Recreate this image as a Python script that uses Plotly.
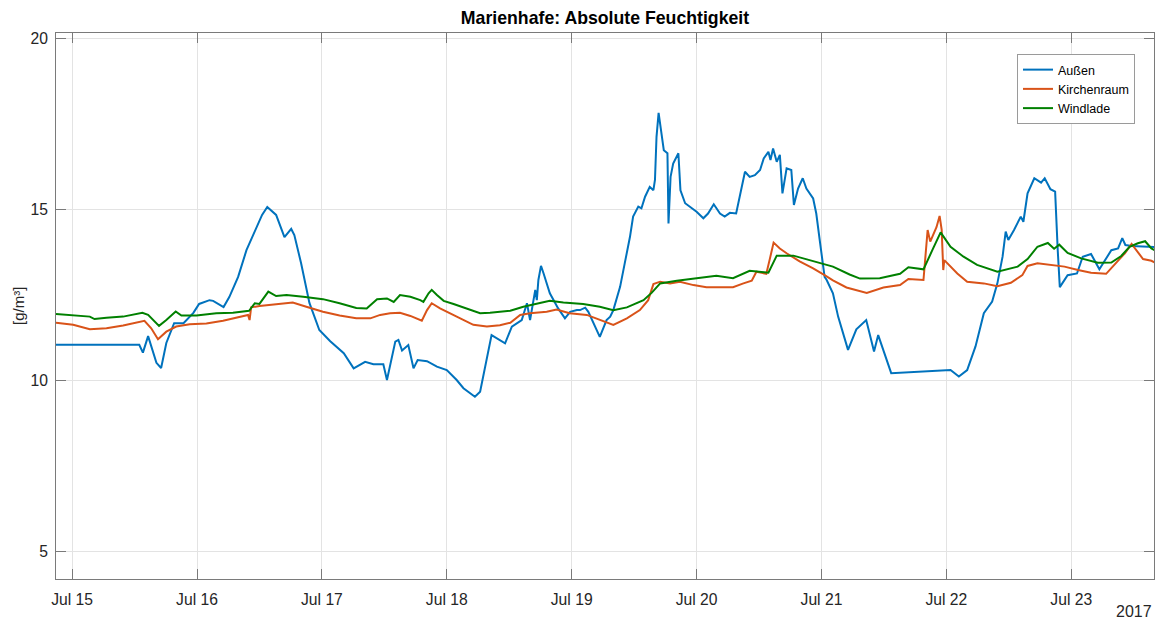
import pandas as pd
import plotly.graph_objects as go

# ---- data (hours after 2017-07-15 00:00, values in g/m^3) ----
start = pd.Timestamp("2017-07-15 00:00")

aussen_h = [-3.1, 12.9, 13.6, 14.6, 16.2, 17.1, 18.1, 19.6, 21.4, 23.3, 24.4, 26.4, 27.1, 29.1,
            30.2, 31.9, 33.5, 35.4, 36.5, 37.5, 39.2, 40.8, 42.1, 42.7, 44.0, 45.6, 47.5, 49.6,
            52.2, 54.1, 56.3, 57.9, 59.8, 60.5, 62.1, 62.7, 63.4, 64.6, 65.6, 66.4, 68.2, 70.1,
            72.0, 73.9, 75.2, 77.4, 78.4, 80.6, 83.2, 84.5, 85.4, 86.4, 87.4, 88.0, 89.0, 89.3,
            89.6, 90.1, 90.6, 91.8, 93.4, 94.7, 95.7, 97.0, 97.6, 98.6, 99.2, 100.2, 101.4, 102.7,
            103.4, 104.0, 105.3, 106.2, 107.2, 107.8, 108.8, 109.4, 110.1, 111.0, 111.7, 112.0,
            112.3, 112.7, 113.3, 113.7, 114.4, 114.6, 115.0, 115.5, 116.5, 116.9, 117.8, 120.0,
            121.3, 122.2, 123.3, 124.5, 125.4, 126.4, 127.6, 128.6, 129.3, 130.2, 131.2, 132.2,
            132.9, 133.8, 134.2, 134.7, 135.4, 136.0, 136.5, 137.3, 138.2, 138.7, 139.5, 140.4,
            141.1, 142.4, 143.0, 143.7, 144.6, 145.0, 146.2, 147.2, 149.1, 150.7, 152.6, 154.1,
            154.9, 157.4, 168.8, 170.4, 172.0, 173.6, 175.2, 176.8, 177.8, 178.8, 179.4, 179.9,
            181.0, 182.3, 182.8, 183.6, 184.9, 186.2, 186.9, 188.0, 188.9, 189.4, 189.8, 191.3,
            193.1, 194.2, 195.8, 197.4, 199.7, 201.0, 201.8, 202.4, 203.6, 208.0]
aussen_v = [11.05, 11.05, 10.82, 11.30, 10.52, 10.37, 11.10, 11.68, 11.68, 11.98, 12.24, 12.35, 12.33, 12.15,
            12.44, 13.03, 13.81, 14.48, 14.84, 15.07, 14.84, 14.19, 14.43, 14.25, 13.43, 12.27, 11.48, 11.15,
            10.80, 10.36, 10.55, 10.48, 10.48, 10.02, 11.14, 11.19, 10.88, 11.04, 10.36, 10.60, 10.57, 10.41,
            10.31, 10.02, 9.78, 9.53, 9.68, 11.33, 11.09, 11.58, 11.67, 11.77, 12.26, 11.77, 12.65, 12.35,
            12.94, 13.35, 13.13, 12.55, 12.11, 11.82, 12.01, 12.06, 12.06, 12.13, 12.01, 11.67, 11.28, 11.77,
            11.87, 12.06, 12.74, 13.43, 14.20, 14.79, 15.08, 15.03, 15.37, 15.66, 15.56, 15.86,
            17.12, 17.82, 17.12, 16.73, 16.64, 14.59, 15.95, 16.34, 16.64, 15.56, 15.18, 14.93,
            14.74, 14.88, 15.15, 14.88, 14.79, 14.90, 14.88, 15.56, 16.10, 15.95, 16.00, 16.15,
            16.49, 16.68, 16.44, 16.78, 16.39, 16.59, 15.47, 16.20, 16.15, 15.13, 15.61, 15.91,
            15.61, 15.32, 14.88, 14.06, 13.03, 12.94, 12.55, 11.87, 10.90, 11.50, 11.77, 10.85,
            11.33, 10.22, 10.31, 10.12, 10.31, 11.00, 11.97, 12.31, 12.84, 13.62, 14.35, 14.11,
            14.40, 14.79, 14.64, 15.47, 15.91, 15.78, 15.91, 15.59, 15.52, 13.81, 12.73, 13.08,
            13.13, 13.62, 13.70, 13.25, 13.81, 13.86, 14.16, 13.96, 13.93, 13.90]

kirche_h = [-3.1, 0.2, 3.4, 6.6, 9.8, 12.4, 13.9, 15.2, 16.5, 18.1, 20.0, 22.6, 25.8, 29.0, 32.2,
            33.8, 34.1, 34.4, 36.0, 37.9, 39.2, 42.4, 45.0, 48.2, 51.4, 54.6, 57.3, 59.2, 61.1, 63.0,
            65.0, 67.2, 68.2, 69.1, 70.7, 72.6, 75.2, 77.1, 79.7, 82.2, 84.2, 86.1, 88.0, 91.2, 93.1,
            95.6, 98.9, 101.4, 104.0, 106.6, 109.1, 110.7, 111.7, 113.0, 114.9, 116.8, 119.4, 121.9,
            124.5, 127.0, 129.0, 130.6, 131.5, 132.2, 133.4, 134.1, 134.8, 136.0, 137.3, 139.8, 142.4,
            144.6, 146.2, 148.8, 150.7, 152.7, 155.9, 159.1, 160.7, 163.6, 164.4, 164.9, 166.1, 166.7,
            167.1, 167.4, 167.6, 170.1, 172.0, 175.2, 177.8, 180.4, 182.6, 183.6, 185.5, 188.1, 190.7,
            193.3, 195.8, 198.7, 200.3, 202.3, 203.6, 204.7, 205.8, 207.4, 208.0]
kirche_v = [11.69, 11.63, 11.50, 11.53, 11.61, 11.69, 11.75, 11.53, 11.21, 11.43, 11.58, 11.65, 11.67, 11.75, 11.87,
            11.92, 11.77, 12.14, 12.18, 12.21, 12.24, 12.28, 12.16, 12.01, 11.90, 11.82, 11.82, 11.92, 11.97, 11.98,
            11.89, 11.75, 12.06, 12.26, 12.11, 11.97, 11.77, 11.63, 11.58, 11.62, 11.69, 11.92, 11.97, 12.01, 12.08,
            11.97, 11.92, 11.77, 11.63, 11.82, 12.06, 12.35, 12.82, 12.89, 12.84, 12.89, 12.79, 12.73,
            12.74, 12.73, 12.84, 12.92, 13.18, 13.15, 13.12, 13.57, 14.03, 13.86, 13.72, 13.48, 13.28,
            13.08, 12.93, 12.72, 12.65, 12.56, 12.72, 12.79, 12.97, 12.94, 14.40, 14.06, 14.48, 14.81,
            14.40, 13.23, 13.52, 13.13, 12.89, 12.84, 12.76, 12.86, 13.08, 13.35, 13.43, 13.38, 13.33,
            13.23, 13.15, 13.12, 13.40, 13.72, 13.99, 13.78, 13.55, 13.50, 13.45]

windlade_h = [-3.1, 0.2, 3.4, 4.3, 6.6, 9.8, 11.7, 13.5, 14.6, 16.7, 18.1, 19.9, 21.0, 23.9, 27.7,
              30.9, 34.0, 35.1, 36.0, 37.7, 39.2, 41.2, 44.4, 46.3, 48.2, 51.4, 54.6, 56.6, 58.6, 60.5,
              61.8, 63.0, 65.0, 66.9, 67.5, 68.5, 69.1, 70.1, 71.4, 73.3, 75.8, 78.4, 80.3, 84.2, 86.7,
              89.3, 91.8, 94.4, 98.2, 101.4, 104.0, 106.6, 109.8, 111.4, 113.0, 116.2, 120.6, 123.8,
              127.0, 130.2, 133.8, 135.4, 138.6, 142.4, 146.2, 149.4, 151.4, 155.2, 159.1, 160.7, 163.6,
              165.3, 166.9, 168.8, 171.3, 173.9, 177.8, 181.7, 183.6, 185.5, 187.5, 188.7, 189.7, 191.3,
              193.9, 197.1, 199.7, 201.6, 203.2, 204.8, 206.2, 207.4, 208.0]
windlade_v = [11.95, 11.92, 11.87, 11.80, 11.84, 11.87, 11.92, 11.98, 11.92, 11.60, 11.77, 12.02, 11.90, 11.90, 11.97,
              11.98, 12.04, 12.26, 12.24, 12.60, 12.47, 12.50, 12.45, 12.42, 12.38, 12.26, 12.12, 12.11, 12.38, 12.40,
              12.30, 12.50, 12.45, 12.35, 12.30, 12.55, 12.65, 12.50, 12.33, 12.24, 12.11, 11.97, 11.98, 12.04, 12.16,
              12.24, 12.33, 12.28, 12.24, 12.16, 12.06, 12.14, 12.35, 12.57, 12.84, 12.92, 12.99, 13.06,
              12.99, 13.21, 13.15, 13.65, 13.65, 13.50, 13.33, 13.10, 12.98, 12.99, 13.12, 13.31, 13.25,
              13.81, 14.33, 13.91, 13.62, 13.38, 13.18, 13.33, 13.55, 13.91, 14.02, 13.85, 13.97, 13.73,
              13.57, 13.44, 13.45, 13.64, 13.91, 14.01, 14.07, 13.86, 13.81]

series_names = ["Außen", "Kirchenraum", "Windlade"]
series_colors = ["#0072BD", "#D95319", "#008000"]

FONT = "Liberation Sans, Arial, Helvetica, sans-serif"
TXT = "#262626"
AX = "#7a7a7a"


def to_time(hours):
    return start + pd.to_timedelta(hours, unit="h")


fig = go.Figure()
for name, hrs, vals, col in zip(series_names,
                                [aussen_h, kirche_h, windlade_h],
                                [aussen_v, kirche_v, windlade_v],
                                series_colors):
    fig.add_trace(go.Scatter(x=to_time(hrs), y=vals, mode="lines", name=name,
                             line=dict(color=col, width=2)))

x0 = to_time([-3.1])[0]
x1 = to_time([207.9])[0]

fig.update_layout(
    width=1158, height=620,
    margin=dict(l=56, r=4, t=33, b=41, autoexpand=False),
    paper_bgcolor="white", plot_bgcolor="white",
    font=dict(family=FONT, size=15, color=TXT),
    title=dict(text="<b>Marienhafe: Absolute Feuchtigkeit</b>", x=(56 + 1154) / 2 / 1158, xanchor="center",
               y=1 - 18 / 620, yanchor="middle", font=dict(size=17.7, color="black", family=FONT)),
    showlegend=True,
    legend=dict(x=(1017 - 56) / 1098, y=1 - (54 - 33) / 546, xanchor="left", yanchor="top",
                bgcolor="white", bordercolor="#9a9a9a", borderwidth=1,
                font=dict(size=12.5, color="black", family=FONT), tracegroupgap=0,
                itemwidth=30),
)

fig.update_xaxes(
    range=[x0, x1], type="date", automargin=False,
    tickformat="%b %d", dtick=86400000, tick0=start,
    ticks="inside", ticklen=10, tickcolor=AX, tickwidth=1,
    showline=True, linecolor=AX, linewidth=1, mirror="ticks",
    showgrid=True, gridcolor="#e3e3e3", gridwidth=1,
    zeroline=False, tickfont=dict(size=15.7, color=TXT), ticklabelstandoff=6,
)
fig.update_yaxes(
    range=[4.21, 20.15], tickvals=[5, 10, 15, 20], automargin=False,
    ticks="inside", ticklen=10, tickcolor=AX, tickwidth=1,
    showline=True, linecolor=AX, linewidth=1, mirror="ticks",
    showgrid=True, gridcolor="#e3e3e3", gridwidth=1,
    zeroline=False, tickfont=dict(size=15.7, color=TXT), ticklabelstandoff=4,
)

fig.add_annotation(text="[g/m³]", xref="paper", yref="paper", x=0, y=0.5, xshift=-38,
                   textangle=-90, showarrow=False, font=dict(size=15, color=TXT),
                   xanchor="center", yanchor="middle")
fig.add_annotation(text="2017", xref="paper", yref="paper", x=1, y=0, yshift=-32,
                   showarrow=False, font=dict(size=16, color=TXT),
                   xanchor="right", yanchor="middle")

fig.write_html("out.html", config={"displayModeBar": False},
               post_script="document.body.style.margin='0';document.body.style.overflow='hidden';")
